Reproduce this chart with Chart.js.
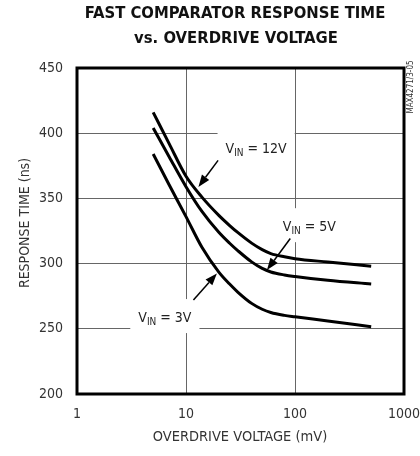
<!DOCTYPE html>
<html>
<head>
<meta charset="utf-8">
<script src="https://cdn.jsdelivr.net/npm/chart.js@4.4.0/dist/chart.umd.min.js"></script>
<style>
  html, body { margin: 0; padding: 0; background: #fff; }
</style>
</head>
<body>
<canvas id="myChart" width="420" height="456"></canvas>
<script>
// overdrive voltage (mV) and response time (ns)
const overdrive = [5, 7, 10, 14, 20, 25, 30, 40, 50, 60, 80, 100, 200, 500];
const vin12 = [416, 392, 367, 351, 337, 329.4, 323.7, 315.7, 310.7, 307.7, 305.2, 303.8, 301.2, 298];
const vin5  = [404, 382, 359, 340, 324, 315.8, 309.8, 301.3, 296.3, 293.6, 291.3, 290.1, 287.2, 284.3];
const vin3  = [384, 360.5, 336, 312.5, 293.5, 284.5, 278, 269.5, 265, 262.5, 260.3, 259.2, 256, 251.6];

const xTicks = [1, 10, 100, 1000];
const yTicks = [200, 250, 300, 350, 400, 450];

// callouts: label centre and arrow (tail -> head) in data units
const callouts = [
  { val: '12V', x: 44,    y: 389,   tx: 19.7, ty: 379.2, hx: 13.0, hy: 358.8 },
  { val: '5V',  x: 135.5, y: 328.7, tx: 90.5, ty: 319.3, hx: 55.3, hy: 295 },
  { val: '3V',  x: 6.4,   y: 259,   tx: 11.7, ty: 272,   hx: 19.2, hy: 292.5 }
];

const FONT = "'Liberation Sans Narrow', 'DejaVu Sans Condensed', 'Arial Narrow', sans-serif";

function series(ys) {
  return overdrive.map((x, i) => ({ x: x, y: ys[i] }));
}

function vinParts(ctx, val) {
  ctx.font = '14px ' + FONT;
  const wV = ctx.measureText('V').width;
  const wRest = ctx.measureText(' = ' + val).width;
  ctx.font = '10px ' + FONT;
  const wIn = ctx.measureText('IN').width;
  return { wV, wIn, wRest, w: wV + wIn + wRest };
}

const extras = {
  id: 'extras',
  beforeDatasetsDraw(chart) {
    const ctx = chart.ctx;
    const xs = chart.scales.x, ys = chart.scales.y;
    ctx.save();
    ctx.fillStyle = '#fff';
    callouts.forEach(c => {
      const p = vinParts(ctx, c.val);
      const cx = xs.getPixelForValue(c.x), cy = ys.getPixelForValue(c.y);
      ctx.fillRect(cx - p.w / 2 - 8, cy - 18, p.w + 16, 34);
    });
    ctx.restore();
  },
  afterDatasetsDraw(chart) {
    const ctx = chart.ctx;
    const xs = chart.scales.x, ys = chart.scales.y;
    ctx.save();
    ctx.strokeStyle = '#000';
    callouts.forEach(c => {
      const p = vinParts(ctx, c.val);
      const cx = xs.getPixelForValue(c.x), cy = ys.getPixelForValue(c.y);
      const x0 = cx - p.w / 2;
      ctx.fillStyle = '#222';
      ctx.textAlign = 'left';
      ctx.textBaseline = 'alphabetic';
      ctx.font = '14px ' + FONT;
      ctx.fillText('V', x0, cy + 5);
      ctx.font = '10px ' + FONT;
      ctx.fillText('IN', x0 + p.wV, cy + 8);
      ctx.font = '14px ' + FONT;
      ctx.fillText(' = ' + c.val, x0 + p.wV + p.wIn, cy + 5);

      // arrow
      const tx = xs.getPixelForValue(c.tx), ty = ys.getPixelForValue(c.ty);
      const hx = xs.getPixelForValue(c.hx), hy = ys.getPixelForValue(c.hy);
      const ang = Math.atan2(hy - ty, hx - tx);
      const len = 12, half = 4.5;
      const bx = hx - len * Math.cos(ang), by = hy - len * Math.sin(ang);
      ctx.lineWidth = 1.5;
      ctx.beginPath();
      ctx.moveTo(tx, ty);
      ctx.lineTo(bx, by);
      ctx.stroke();
      ctx.fillStyle = '#000';
      ctx.beginPath();
      ctx.moveTo(hx, hy);
      ctx.lineTo(bx - half * Math.sin(ang), by + half * Math.cos(ang));
      ctx.lineTo(bx + half * Math.sin(ang), by - half * Math.cos(ang));
      ctx.closePath();
      ctx.fill();
    });
    ctx.restore();
  },
  afterDraw(chart) {
    const ctx = chart.ctx;
    const a = chart.chartArea;
    ctx.save();
    // frame
    ctx.strokeStyle = '#000';
    ctx.lineWidth = 3;
    ctx.strokeRect(a.left, a.top, a.right - a.left, a.bottom - a.top);

    // titles
    ctx.fillStyle = '#111';
    ctx.textAlign = 'center';
    ctx.textBaseline = 'middle';
    ctx.font = 'bold 16.5px ' + FONT;
    ctx.fillText('FAST COMPARATOR RESPONSE TIME', 235, 14);
    ctx.fillText('vs. OVERDRIVE VOLTAGE', 236, 39);

    ctx.fillStyle = '#333';
    ctx.font = '14.5px ' + FONT;
    ctx.fillText('OVERDRIVE VOLTAGE (mV)', 240, 437);

    ctx.save();
    ctx.translate(25, 223);
    ctx.rotate(-Math.PI / 2);
    ctx.font = '14px ' + FONT;
    ctx.fillText('RESPONSE TIME (ns)', 0, 0);
    ctx.restore();

    ctx.save();
    ctx.translate(411, 87);
    ctx.rotate(-Math.PI / 2);
    ctx.font = '8px ' + FONT;
    ctx.fillText('MAX4271/3-05', 0, 0);
    ctx.restore();

    ctx.restore();
  }
};

const lineStyle = {
  borderColor: '#000',
  borderWidth: 3,
  pointRadius: 0,
  fill: false,
  cubicInterpolationMode: 'monotone'
};

const ctx = document.getElementById('myChart').getContext('2d');
const myChart = new Chart(ctx, {
  type: 'line',
  data: {
    datasets: [
      Object.assign({ label: 'VIN = 12V', data: series(vin12) }, lineStyle),
      Object.assign({ label: 'VIN = 5V', data: series(vin5) }, lineStyle),
      Object.assign({ label: 'VIN = 3V', data: series(vin3) }, lineStyle)
    ]
  },
  options: {
    responsive: false,
    animation: false,
    devicePixelRatio: 1,
    layout: { padding: { left: 0, right: 16, top: 68, bottom: 0 } },
    plugins: {
      legend: { display: false },
      tooltip: { enabled: false }
    },
    scales: {
      x: {
        type: 'logarithmic',
        min: 1,
        max: 1000,
        afterBuildTicks: s => { s.ticks = xTicks.map(v => ({ value: v })); },
        afterFit: s => { s.height = 62; s.paddingLeft = 0; s.paddingRight = 0; },
        ticks: {
          callback: v => String(v),
          autoSkip: false,
          maxRotation: 0,
          padding: 12,
          color: '#333',
          font: { family: FONT, size: 14 }
        },
        grid: { color: '#666', lineWidth: 1, drawTicks: false },
        border: { display: false }
      },
      y: {
        type: 'linear',
        min: 200,
        max: 450,
        afterBuildTicks: s => { s.ticks = yTicks.map(v => ({ value: v })); },
        afterFit: s => { s.width = 77; s.paddingTop = 0; s.paddingBottom = 0; },
        ticks: {
          padding: 14,
          color: '#333',
          font: { family: FONT, size: 14 }
        },
        grid: { color: '#666', lineWidth: 1, drawTicks: false },
        border: { display: false }
      }
    }
  },
  plugins: [extras]
});
</script>
</body>
</html>
